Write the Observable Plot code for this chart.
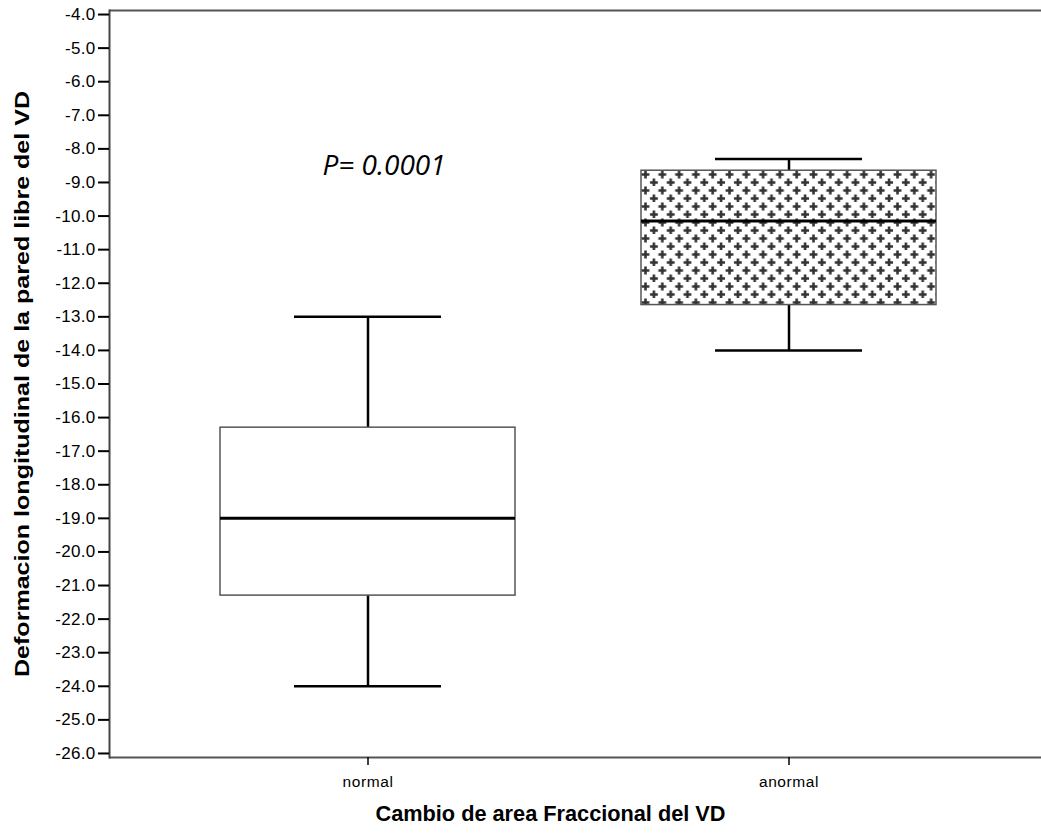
<!DOCTYPE html>
<html>
<head>
<meta charset="utf-8">
<script src="https://cdn.jsdelivr.net/npm/d3@7"></script>
<script src="https://cdn.jsdelivr.net/npm/@observablehq/plot@0.6"></script>
<style>
  html, body { margin: 0; padding: 0; background: white; overflow: hidden; }
  #chart svg g[aria-label="y-axis tick label"] text { letter-spacing: 0.3px; }
  #chart svg g[aria-label="x-axis tick label"] text { letter-spacing: 0.6px; }
</style>
</head>
<body>
<div id="chart"></div>
<script>
// ---- data ----
const groups = ["normal", "anormal"];
const whiskerLow = [-24.0, -14.0];
const q1 = [-21.3, -12.65];
const median = [-19.0, -10.15];
const q3 = [-16.3, -8.65];
const whiskerHigh = [-13.0, -8.3];
const yTicks = [-26, -25, -24, -23, -22, -21, -20, -19, -18, -17, -16, -15, -14, -13, -12, -11, -10, -9, -8, -7, -6, -5, -4];
const yDomain = [-26.12, -3.88];
const pText = "P= 0.0001";
const pValueY = -8.5;
const yLabel = "Deformacion longitudinal de la pared libre del VD";
const xLabel = "Cambio de area Fraccional del VD";

const rows = groups.map((g, i) => ({
  group: g, lo: whiskerLow[i], q1: q1[i], med: median[i], q3: q3[i], hi: whiskerHigh[i]
}));

// pattern defs as a render-function mark
function patternDefs() {
  const ns = "http://www.w3.org/2000/svg";
  const defs = document.createElementNS(ns, "defs");
  const pat = document.createElementNS(ns, "pattern");
  pat.setAttribute("id", "plusPattern");
  pat.setAttribute("patternUnits", "userSpaceOnUse");
  pat.setAttribute("width", "16.8");
  pat.setAttribute("height", "16");
  pat.setAttribute("x", "641");
  pat.setAttribute("y", "170");
  const bg = document.createElementNS(ns, "rect");
  bg.setAttribute("width", "16.8"); bg.setAttribute("height", "16"); bg.setAttribute("fill", "white");
  pat.appendChild(bg);
  const p = document.createElementNS(ns, "path");
  p.setAttribute("d", "M0.6,4.5h7.8M4.5,0.6v7.8M9,12.5h7.8M12.9,8.6v7.8");
  p.setAttribute("stroke", "#333");
  p.setAttribute("stroke-width", "2.6");
  pat.appendChild(p);
  defs.appendChild(pat);
  return defs;
}

const chart = Plot.plot({
  width: 1041,
  height: 837,
  marginLeft: 109,
  marginRight: 0,
  marginTop: 10,
  marginBottom: 80,
  style: { fontFamily: "'Liberation Sans', Arial, sans-serif", fontSize: "16px", color: "black", background: "white" },
  x: { type: "band", domain: groups, range: [109, 1047], paddingInner: 0.2986, paddingOuter: 0.2607 },
  y: { domain: yDomain },
  marks: [
    patternDefs,
    Plot.ruleY([yDomain[0], yDomain[1]], { stroke: "#555", strokeWidth: 2 }),
    Plot.frame({ anchor: "left", stroke: "#444", strokeWidth: 2 }),
    Plot.axisY(yTicks, { tickSize: 11, tickPadding: 3, tickFormat: d => d.toFixed(1), label: null, fontSize: 17, strokeWidth: 2 }),
    Plot.axisX({ tickSize: 8, tickPadding: 10, label: null, fontSize: 15.5, strokeWidth: 1.5 }),
    // whiskers
    Plot.ruleX(rows, { x: "group", y1: "lo", y2: "q1", stroke: "black", strokeWidth: 2.5 }),
    Plot.ruleX(rows, { x: "group", y1: "q3", y2: "hi", stroke: "black", strokeWidth: 2.5 }),
    // caps
    Plot.tickY(rows, { x: "group", y: "lo", stroke: "black", strokeWidth: 2.5, insetLeft: 74, insetRight: 74 }),
    Plot.tickY(rows, { x: "group", y: "hi", stroke: "black", strokeWidth: 2.5, insetLeft: 74, insetRight: 74 }),
    // boxes
    Plot.barY(rows.filter(d => d.group === "normal"), { x: "group", y1: "q1", y2: "q3", fill: "white", stroke: "#555", strokeWidth: 1.5 }),
    Plot.barY(rows.filter(d => d.group === "anormal"), { x: "group", y1: "q1", y2: "q3", fill: "url(#plusPattern)", stroke: "#555", strokeWidth: 1.5 }),
    // medians
    Plot.tickY(rows, { x: "group", y: "med", stroke: "black", strokeWidth: 3 }),
    // p-value annotation
    Plot.text([pText], { x: () => "normal", y: () => pValueY, text: d => d, dx: 16, fontSize: 28, fontStyle: "italic", fontFamily: "'Open Sans', sans-serif", fill: "black" }),
    // axis titles
    Plot.text([yLabel], { className: "ylab", frameAnchor: "left", textAnchor: "middle", text: d => d, rotate: -90, dx: -87, fontSize: 20, fontWeight: "bold", fill: "black" }),
    Plot.text([xLabel], { className: "xlab", frameAnchor: "bottom", textAnchor: "middle", text: d => d, dy: 63, dx: -25, fontSize: 22, fontWeight: "bold", fill: "black" })
  ]
});
// stretch axis titles to the reference's text lengths
chart.querySelectorAll(".ylab text").forEach(t => { t.setAttribute("textLength", "586"); t.setAttribute("lengthAdjust", "spacingAndGlyphs"); });
chart.querySelectorAll(".xlab text").forEach(t => { t.setAttribute("textLength", "350"); t.setAttribute("lengthAdjust", "spacingAndGlyphs"); });
document.getElementById("chart").appendChild(chart);
</script>
</body>
</html>
